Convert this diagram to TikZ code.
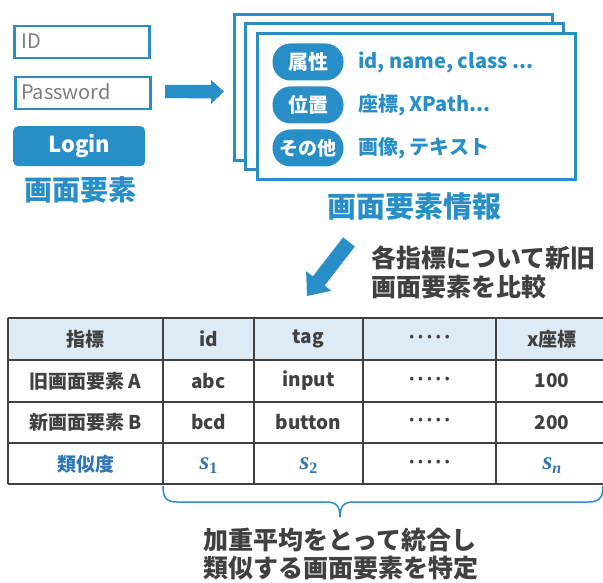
\documentclass[tikz,border=0pt]{standalone}
\usepackage{fontspec}
\setmainfont{Noto Sans CJK JP}
\newfontfamily\msfont{Liberation Serif}
\newcommand\setfs[1]{\fontsize{#1}{#1}\selectfont}
\newcommand\simvar[2]{{\msfont\bfseries\itshape #1}\raisebox{-4pt}{\msfont\bfseries\setfs{16}#2}}
\definecolor{mainblue}{RGB}{40,142,199}
\definecolor{tblue}{RGB}{46,117,182}
\definecolor{dgray}{RGB}{64,64,64}
\definecolor{hdrfill}{RGB}{221,235,247}
\definecolor{phgray}{RGB}{125,125,125}
\tikzset{
  field/.style={draw=mainblue, line width=2.5pt, fill=white, anchor=north west, minimum width=135pt, minimum height=32pt, inner sep=0pt},
  phtext/.style={text=phgray, anchor=west, inner sep=0pt, font=\setfs{20}},
  btn/.style={fill=mainblue, rounded corners=5pt, anchor=north west, minimum width=132pt, minimum height=40pt, text=white, font=\setfs{22}\bfseries, inner sep=0pt},
  card/.style={draw=mainblue, line width=3pt, fill=white, anchor=north west, minimum width=318pt, minimum height=146pt, inner sep=0pt},
  pill/.style={fill=mainblue, rounded corners=18pt, minimum width=71pt, minimum height=37pt, text=white, font=\setfs{20}\bfseries, inner sep=0pt},
  info/.style={text=mainblue, anchor=west, font=\setfs{20}\bfseries, inner sep=0pt},
  btitle/.style={text=mainblue, font=\bfseries, inner sep=0pt},
  gtext/.style={text=dgray, align=left, inner sep=0pt},
  cell/.style={text=dgray, font=\setfs{19}\bfseries, inner sep=0pt},
  dots/.style={text=dgray, font=\setfs{17}\bfseries, inner sep=0pt},
  bcell/.style={text=tblue, font=\setfs{19}\bfseries, inner sep=0pt},
  mcell/.style={text=tblue, font=\setfs{25}, inner sep=0pt},
  grid/.style={draw=dgray, line width=1.5pt},
  blockarrow/.style={fill=mainblue},
  bracestyle/.style={draw=mainblue, line width=1.5pt}
}
\newcommand\dotrow{·\kern-1.5pt·\kern-1.5pt·\kern-1.5pt·\kern-1.5pt·}
\begin{document}
\begin{tikzpicture}[x=1pt,y=-1pt]
\useasboundingbox (0,0) rectangle (603,583);
\clip (0,0) rectangle (603,583);
% login form
\node[field] (idf) at (13,25) {};
\node[phtext] (idt) at (21,41) {ID};
\node[field] (pwf) at (14,76) {};
\node[phtext] (pwt) at (21,92) {Password};
\node[btn] (login) at (13,126) {Login};
\node[btitle, font=\setfs{28}\bfseries] (elem) at (80,190) {画面要素};
% right arrow
\coordinate (ra) at (165,91.5);
\fill[blockarrow] (ra) ++(0,-6.5) -- ++(46,0) -- ++(0,-5) -- (224,91.5) -- (211,104) -- ++(0,-5.5) -- (165,98) -- cycle;
% cards
\node[card] (c1) at (233,13) {};
\node[card] (c2) at (244,22) {};
\node[card] (c3) at (256,32) {};
\node[pill] (p1) at (308,62) {属性};
\node[pill] (p2) at (308,105) {位置};
\node[pill, font=\setfs{19}\bfseries] (p3) at (308,148) {その他};
\node[info] (i1) at (358,62) {id, name, class ...};
\node[info] (i2) at (358,105) {座標, XPath...};
\node[info] (i3) at (358,148) {画像, テキスト};
\node[btitle, font=\setfs{29}\bfseries] (info) at (414,207) {画面要素情報};
% diagonal arrow
\fill[blockarrow] (343.1,237.4) -- (354.9,246.6) -- (324.6,285.6) -- (331.3,290.8) -- (307,296) -- (306.1,271.2) -- (312.8,276.4) -- cycle;
\node[gtext, anchor=west, font=\fontsize{25}{29}\selectfont\bfseries] (cmp) at (371,272) {各指標について新旧\\画面要素を比較};
% table
\fill[hdrfill] (8,318) rectangle (620,360);
\foreach \yy in {318,360,402,443,484} \draw[grid] (8,\yy) -- (620,\yy);
\foreach \xx in {8,163,254,363,496} \draw[grid] (\xx,318) -- (\xx,484);
\node[cell] (h1) at (85.5,339) {指標};
\node[cell] (h2) at (208.5,339) {id};
\node[cell] (h3) at (308.5,339) {tag};
\node[dots] (h4) at (429.5,339) {\dotrow};
\node[cell] (h5) at (552,339) {x座標};
\node[cell] (a1) at (85.5,381) {旧画面要素 A};
\node[cell] (a2) at (208.5,381) {abc};
\node[cell] (a3) at (308.5,381) {input};
\node[dots] (a4) at (429.5,381) {\dotrow};
\node[cell] (a5) at (552,381) {100};
\node[cell] (b1) at (85.5,422.5) {新画面要素 B};
\node[cell] (b2) at (208.5,422.5) {bcd};
\node[cell] (b3) at (308.5,422.5) {button};
\node[dots] (b4) at (429.5,422.5) {\dotrow};
\node[cell] (b5) at (552,422.5) {200};
\node[bcell] (s0) at (85.5,464) {類似度};
\node[mcell] (s1) at (208.5,466) {\simvar{s}{1}};
\node[mcell] (s2) at (308.5,466) {\simvar{s}{2}};
\node[dots] (s3) at (429.5,464) {\dotrow};
\node[mcell] (s4) at (552,466) {\simvar{s}{\itshape n}};
% brace
\coordinate (bl) at (163,486);
\coordinate (bt) at (340,517);
\coordinate (br) at (603,486);
\draw[bracestyle] (bl) .. controls (163,498) and (166,502) .. (178,502) -- (326,502) .. controls (336,502) and (340,506) .. (bt) .. controls (340,506) and (344,502) .. (354,502) -- (588,502) .. controls (599,502) and (603,498) .. (br);
\node[gtext, anchor=north west, font=\fontsize{25}{28}\selectfont\bfseries] (res) at (203,528) {加重平均をとって統合し\\類似する画面要素を特定};
\end{tikzpicture}
\end{document}
